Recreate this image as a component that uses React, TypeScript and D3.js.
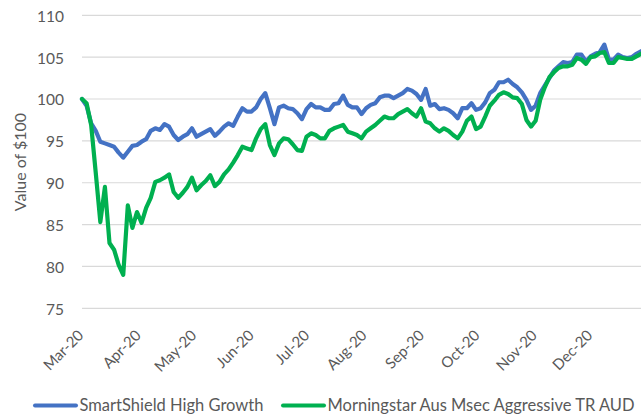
import { useEffect, useRef } from "react";
import * as d3 from "d3";

// date axis: first and last sample of the period
const startDate = new Date(2020, 2, 1);
const endDate = new Date(2020, 11, 28);
// month ticks shown along the bottom
const monthTicks = d3.timeMonth.range(new Date(2020, 2, 1), new Date(2020, 11, 2));

const yTicks = [75, 80, 85, 90, 95, 100, 105, 110];

const seriesNames = ["SmartShield High Growth", "Morningstar Aus Msec Aggressive TR AUD"];
const seriesColors = ["#4472C4", "#00B050"];

const smartShield = [
  100.0, 99.2, 97.1, 96.2, 94.9, 94.7, 94.5, 94.3, 93.6, 93.0,
  93.7, 94.4, 94.5, 94.9, 95.2, 96.2, 96.5, 96.3, 97.0, 96.7,
  95.7, 95.1, 95.5, 95.8, 96.5, 95.5, 95.8, 96.1, 96.4, 95.6,
  96.1, 96.7, 97.1, 96.8, 97.9, 98.9, 98.5, 98.5, 99.0, 100.0,
  100.7, 98.9, 97.0, 99.0, 99.2, 98.9, 98.8, 98.3, 97.6, 98.8,
  99.4, 99.0, 99.0, 98.7, 98.7, 99.4, 99.5, 100.4, 99.3, 99.0,
  99.0, 98.2, 98.9, 99.3, 99.5, 100.2, 100.4, 100.4, 100.1, 100.4,
  100.7, 101.2, 101.0, 100.6, 99.9, 101.2, 99.2, 99.4, 98.8, 98.9,
  98.7, 98.3, 97.7, 98.9, 98.9, 99.5, 98.7, 98.9, 99.6, 100.7,
  101.1, 102.0, 102.0, 102.3, 101.8, 101.4, 100.8, 99.9, 98.7, 99.2,
  100.7, 101.6, 102.5, 103.4, 103.9, 104.4, 104.3, 104.4, 105.3, 105.3,
  104.5, 105.1, 105.4, 105.6, 106.5, 104.7, 104.7, 105.3, 105.0, 104.9,
  105.0, 105.4, 105.7,
];

const morningstar = [
  100.0, 99.5, 96.9, 91.2, 85.3, 89.5, 82.8, 82.0, 80.2, 79.0,
  87.3, 84.6, 86.5, 85.2, 87.0, 88.2, 90.1, 90.3, 90.6, 91.0,
  88.9, 88.2, 88.8, 89.5, 90.6, 89.1, 89.7, 90.2, 90.9, 89.6,
  90.1, 91.0, 91.6, 92.4, 93.3, 94.3, 94.1, 93.9, 95.3, 96.4,
  97.0, 94.5, 93.3, 94.7, 95.3, 95.2, 94.6, 93.9, 93.8, 95.5,
  95.9, 95.7, 95.3, 95.3, 96.2, 96.5, 96.7, 96.9, 96.1, 95.9,
  95.7, 95.3, 96.1, 96.5, 96.9, 97.4, 97.9, 97.7, 97.7, 98.2,
  98.5, 98.8, 98.3, 97.9, 98.9, 97.3, 97.1, 96.5, 96.1, 96.5,
  96.2, 95.7, 95.3, 96.1, 97.4, 97.9, 96.4, 96.7, 97.9, 99.2,
  99.8, 100.5, 100.8, 100.6, 100.2, 100.1, 99.4, 97.5, 96.7, 97.4,
  99.9, 101.4, 102.6, 103.2, 103.7, 103.9, 103.9, 104.1, 104.9, 104.7,
  104.2, 105.0, 105.1, 105.5, 105.6, 104.3, 104.3, 105.0, 104.9, 104.8,
  104.8, 105.1, 105.4,
];

const font = "Lato, 'Open Sans', sans-serif";
const textGrey = "#595959";

export default function App() {
  const svgRef = useRef<SVGSVGElement>(null);

  useEffect(() => {
    const width = 641;
    const height = 416;
    const margin = { top: 15.3, right: 0, bottom: 107.7, left: 82 };

    const svg = d3.select(svgRef.current).attr("width", width).attr("height", height);
    svg.selectAll("*").remove();

    // each sample gets its date, spread evenly across the period
    const toTime = d3
      .scaleLinear()
      .domain([0, smartShield.length - 1])
      .range([startDate.getTime(), endDate.getTime()]);
    const dates = smartShield.map((_d, i) => new Date(toTime(i)));

    const x = d3
      .scaleTime()
      .domain([startDate, endDate])
      .range([margin.left, width - margin.right]);
    const y = d3
      .scaleLinear()
      .domain([75, 110])
      .range([height - margin.bottom, margin.top]);

    // gridlines
    svg
      .append("g")
      .selectAll("line")
      .data(yTicks)
      .join("line")
      .attr("x1", margin.left)
      .attr("x2", width - margin.right)
      .attr("y1", (d) => y(d))
      .attr("y2", (d) => y(d))
      .attr("stroke", "#D9D9D9")
      .attr("stroke-width", 1.2);

    // y tick labels
    svg
      .append("g")
      .selectAll("text")
      .data(yTicks)
      .join("text")
      .attr("x", margin.left - 18)
      .attr("y", (d) => y(d) + 1)
      .attr("dy", "0.35em")
      .attr("text-anchor", "end")
      .attr("font-family", font)
      .attr("font-size", 15.5)
      .attr("fill", textGrey)
      .text((d) => d);

    // y axis title
    svg
      .append("text")
      .attr("transform", `translate(26,162) rotate(-90)`)
      .attr("text-anchor", "middle")
      .attr("font-family", font)
      .attr("font-size", 16)
      .attr("fill", textGrey)
      .text("Value of $100");

    // x tick labels, rotated
    const fmt = d3.timeFormat("%b-%y");
    const y0 = y(75);
    svg
      .append("g")
      .selectAll("text")
      .data(monthTicks)
      .join("text")
      .attr("transform", (d) => `translate(${x(d) + 2.5},${y0 + 28}) rotate(-45)`)
      .attr("text-anchor", "end")
      .attr("font-family", font)
      .attr("font-size", 15)
      .attr("fill", textGrey)
      .text((d) => fmt(d));

    // series lines - blue first so green sits on top like the original
    const line = d3
      .line<number>()
      .x((_d, i) => x(dates[i]))
      .y((d) => y(d));

    [smartShield, morningstar].forEach((values, k) => {
      svg
        .append("path")
        .datum(values)
        .attr("fill", "none")
        .attr("stroke", seriesColors[k])
        .attr("stroke-width", 4.2)
        .attr("stroke-linejoin", "round")
        .attr("stroke-linecap", "round")
        .attr("d", line);
    });

    // legend
    const legendY = 405.5;
    const legendX = [35, 283];
    const legend = svg
      .append("g")
      .selectAll("g")
      .data(seriesNames)
      .join("g")
      .attr("transform", (_d, i) => `translate(${legendX[i]},${legendY})`);
    legend
      .append("line")
      .attr("x1", 0)
      .attr("x2", 41)
      .attr("stroke", (_d, i) => seriesColors[i])
      .attr("stroke-width", 4)
      .attr("stroke-linecap", "round");
    legend
      .append("text")
      .attr("x", 44.5)
      .attr("dy", "0.35em")
      .attr("font-family", font)
      .attr("font-size", 16.5)
      .attr("fill", textGrey)
      .text((d) => d);
  }, []);

  return <svg ref={svgRef} style={{ position: "absolute", left: 0, top: 0 }} />;
}
